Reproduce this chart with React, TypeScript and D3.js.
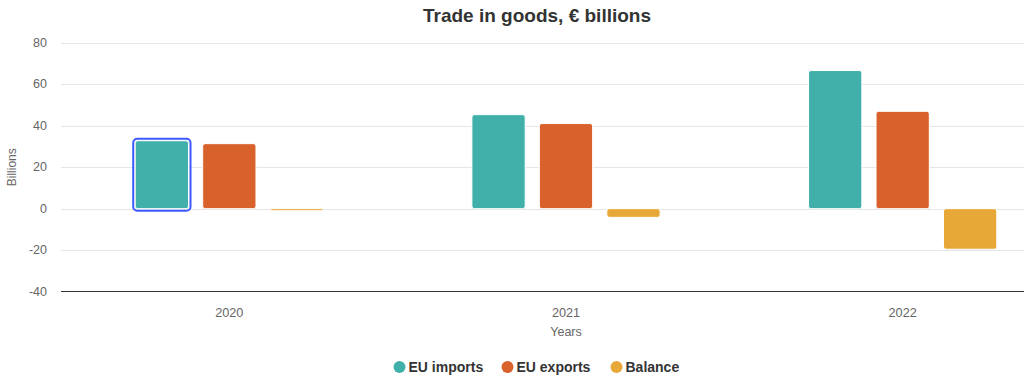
import * as d3 from "d3";

const years = ["2020", "2021", "2022"];
const seriesNames = ["EU imports", "EU exports", "Balance"];
const seriesColors = ["#41b0aa", "#d9622c", "#e8a838"];
const euImports = [32.8, 45.4, 66.7];
const euExports = [31.4, 41.1, 47.0];
const balance = [-1.0, -4.2, -19.6];
const yTicks = [-40, -20, 0, 20, 40, 60, 80];

const W = 1024;
const H = 384;
const FONT = "'Liberation Sans', Arial, Helvetica, sans-serif";

export default function App() {
  const values = [euImports, euExports, balance];
  const plotLeft = 61;
  const plotRight = 1071; // chart is wider than the viewport, clipped on the right
  const plotTop = 43;
  const plotBottom = 291.5;
  const chartCenter = 537; // title + legend centre (whole chart, not plot)

  const x = d3.scaleBand<string>().domain(years).range([plotLeft, plotRight]);
  const inner = d3
    .scaleBand<number>()
    .domain([0, 1, 2])
    .range([0, x.bandwidth()])
    .paddingOuter(1.1)
    .paddingInner(0.21);
  const y = d3.scaleLinear().domain([-40, 80]).range([plotBottom, plotTop]);
  const plotCenter = (plotLeft + plotRight) / 2;

  return (
    <svg
      width={W}
      height={H}
      style={{ position: "fixed", left: 0, top: 0, background: "#fff" }}
      fontFamily={FONT}
    >
      <text x={chartCenter} y={22} textAnchor="middle" fontSize={19} fontWeight="bold" fill="#333">
        Trade in goods, € billions
      </text>

      {/* grid */}
      {yTicks.map((t) => (
        <g key={t}>
          {t !== -40 && (
            <line x1={plotLeft} x2={plotRight} y1={Math.round(y(t)) + 0.5} y2={Math.round(y(t)) + 0.5} stroke="#e6e6e6" />
          )}
          <text x={47} y={y(t) + 4} textAnchor="end" fontSize={12.5} fill="#666">
            {t}
          </text>
        </g>
      ))}
      <line x1={plotLeft} x2={plotRight} y1={plotBottom} y2={plotBottom} stroke="#333" strokeWidth={1} />

      <text
        transform={`translate(15.5,${(plotTop + plotBottom) / 2}) rotate(-90)`}
        textAnchor="middle"
        fontSize={12}
        fill="#666"
      >
        Billions
      </text>

      {/* bars */}
      {values.map((vals, s) =>
        vals.map((v, i) => {
          const bx = (x(years[i]) ?? 0) + (inner(s) ?? 0);
          const y0 = y(0);
          const y1 = y(v);
          const top = Math.min(y0, y1);
          const h = Math.max(1.5, Math.abs(y1 - y0));
          return (
            <rect
              key={`${s}-${i}`}
              x={bx}
              y={top}
              width={inner.bandwidth()}
              height={h}
              rx={2.5}
              fill={seriesColors[s]}
              stroke="#fff"
              strokeWidth={1}
            />
          );
        })
      )}

      {/* hover highlight on first bar */}
      {(() => {
        const bx = (x(years[0]) ?? 0) + (inner(0) ?? 0);
        const top = y(euImports[0]);
        return (
          <rect
            x={bx - 2}
            y={top - 2}
            width={inner.bandwidth() + 4}
            height={y(0) - top + 4}
            rx={4}
            fill="none"
            stroke="#3d5afe"
            strokeWidth={2}
          />
        );
      })()}

      {/* x labels */}
      {years.map((yr) => (
        <text key={yr} x={(x(yr) ?? 0) + x.bandwidth() / 2} y={317} textAnchor="middle" fontSize={12.7} fill="#666">
          {yr}
        </text>
      ))}
      <text x={plotCenter} y={336} textAnchor="middle" fontSize={12.5} fill="#666">
        Years
      </text>

      {/* legend */}
      {(() => {
        const widths = [88, 89, 70];
        const gap = 20;
        const total = widths.reduce((a, b) => a + b, 0) + gap * (widths.length - 1);
        let cx = chartCenter - total / 2;
        return seriesNames.map((name, s) => {
          const x0 = cx;
          cx += widths[s] + gap;
          return (
            <g key={name}>
              <circle cx={x0 + 6} cy={367} r={6} fill={seriesColors[s]} />
              <text x={x0 + 15} y={372} fontSize={14} fontWeight="bold" fill="#333">
                {name}
              </text>
            </g>
          );
        });
      })()}
    </svg>
  );
}
